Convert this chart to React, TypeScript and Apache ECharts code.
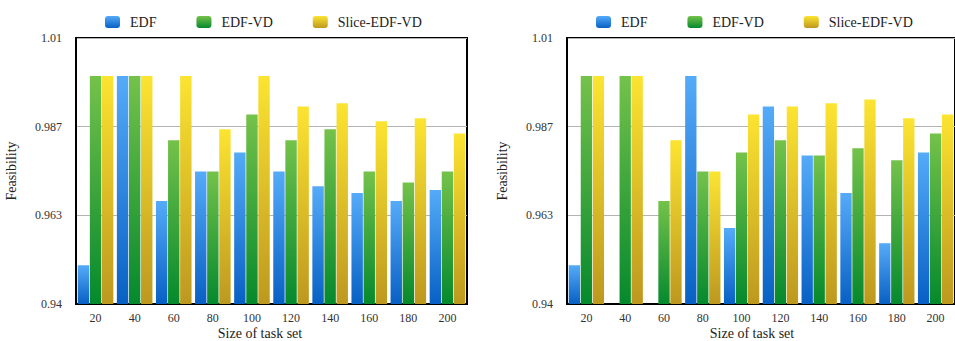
import React, { useEffect, useRef } from "react";
import * as echarts from "echarts";

const categories = ["20", "40", "60", "80", "100", "120", "140", "160", "180", "200"];
const seriesNames = ["EDF", "EDF-VD", "Slice-EDF-VD"];

const leftEDF = [0.9502, 1.0, 0.9671, 0.9749, 0.9799, 0.9749, 0.971, 0.9692, 0.9671, 0.970];
const leftEDFVD = [1.0, 1.0, 0.9831, 0.9749, 0.9899, 0.9831, 0.986, 0.9749, 0.972, 0.9749];
const leftSlice = [1.0, 1.0, 1.0, 0.986, 1.0, 0.992, 0.9928, 0.9881, 0.9889, 0.9849];

const rightEDF = [0.9502, 0.94, 0.94, 1.0, 0.96, 0.992, 0.9791, 0.9692, 0.956, 0.9799];
const rightEDFVD = [1.0, 1.0, 0.9671, 0.9749, 0.9799, 0.9831, 0.9791, 0.981, 0.9778, 0.9849];
const rightSlice = [1.0, 1.0, 0.9831, 0.9749, 0.9899, 0.992, 0.9928, 0.9938, 0.9889, 0.9899];

const yTickLabels = ["0.94", "0.963", "0.987", "1.01"];
const Y_MIN = 0.94;
const Y_MAX = 1.01;

const gradients = [
  ["#55abf8", "#0860c4"],
  ["#74c24a", "#05892d"],
  ["#fce431", "#bd981f"],
];

const SERIF = "'Liberation Serif', 'Times New Roman', serif";

export default function App() {
  const ref = useRef<HTMLDivElement>(null);

  useEffect(() => {
    if (!ref.current) return;
    const chart = echarts.init(ref.current, undefined, { renderer: "svg" });
    const span = Y_MAX - Y_MIN;
    const interval = span / 3;

    const grids = [
      { left: 76, top: 38, width: 391, height: 266 },
      { left: 567, top: 38, width: 391, height: 266 },
    ];

    const mkColor = (i: number) =>
      new echarts.graphic.LinearGradient(0, 0, 0, 1, [
        { offset: 0, color: gradients[i][0] },
        { offset: 1, color: gradients[i][1] },
      ]);

    const data = [
      [leftEDF, leftEDFVD, leftSlice],
      [rightEDF, rightEDFVD, rightSlice],
    ];

    const series: any[] = [];
    data.forEach((group, gi) => {
      group.forEach((vals, si) => {
        series.push({
          type: "bar",
          name: seriesNames[si],
          xAxisIndex: gi,
          yAxisIndex: gi,
          data: vals.map((v) => +(v - Y_MIN).toFixed(5)),
          barGap: "6%",
          barCategoryGap: "9%",
          itemStyle: { color: mkColor(si) },
        });
      });
    });

    const xAxes = grids.map((_, gi) => ({
      type: "category",
      gridIndex: gi,
      data: categories,
      axisLine: { lineStyle: { color: "#000", width: 2 } },
      axisTick: { show: false },
      axisLabel: { color: "#333", fontSize: 12, fontFamily: SERIF, margin: 8 },
    }));

    const yAxes = grids.map((_, gi) => ({
      type: "value",
      gridIndex: gi,
      min: 0,
      max: span,
      interval,
      name: "Feasibility",
      nameLocation: "middle",
      nameGap: 58,
      nameRotate: 90,
      nameTextStyle: { color: "#222", fontSize: 14, fontFamily: SERIF },
      axisLine: { show: true, lineStyle: { color: "#000", width: 2 } },
      axisTick: { show: false },
      axisLabel: {
        color: "#333",
        fontSize: 12,
        fontFamily: SERIF,
        margin: 14,
        formatter: (v: number) => yTickLabels[Math.round(v / interval)] ?? "",
      },
      splitLine: { lineStyle: { color: "#b4b4b4", width: 1 } },
    }));

    const legends = [100, 591].map((left) => ({
      left,
      top: 10,
      itemWidth: 15,
      itemHeight: 12,
      itemGap: 40,
      data: seriesNames,
      textStyle: { color: "#222", fontSize: 14, fontFamily: SERIF, padding: [0, 0, 0, 5] },
    }));

    const nameStyle = {
      text: "Size of task set",
      fontSize: 14,
      fontFamily: SERIF,
      fill: "#222",
      textAlign: "center",
      textVerticalAlign: "middle",
    };

    chart.setOption({
      animation: false,
      backgroundColor: "#fff",
      grid: grids.map((g) => ({ ...g, show: true, borderColor: "#000", borderWidth: 2, backgroundColor: "transparent" })),
      legend: legends,
      xAxis: xAxes,
      yAxis: yAxes,
      series,
      graphic: [
        { type: "text", x: 260, y: 333, style: { ...nameStyle } },
        { type: "text", x: 752, y: 333, style: { ...nameStyle } },
      ],
    });

    return () => chart.dispose();
  }, []);

  return (
    <div
      ref={ref}
      style={{ position: "fixed", left: 0, top: 0, width: 955, height: 341, background: "#fff" }}
    />
  );
}
